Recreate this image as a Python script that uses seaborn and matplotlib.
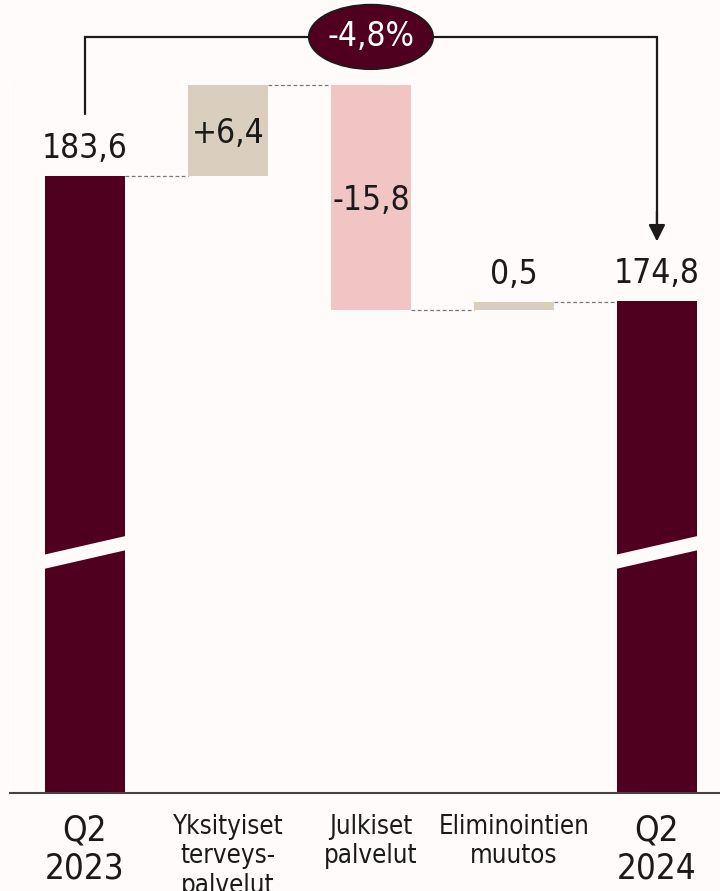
import numpy as np
import seaborn as sns
import matplotlib.pyplot as plt
from matplotlib.patches import Ellipse, Polygon

# data
categories = ['Q2\n2023', 'Yksityiset\nterveys-\npalvelut', 'Julkiset\npalvelut', 'Eliminointien\nmuutos', 'Q2\n2024']
start_value = 183.6
changes = [6.4, -15.8, 0.5]
end_value = 174.8
value_labels = ['183,6', '+6,4', '-15,8', '0,5', '174,8']
change_pct = '-4,8%'

bg = '#FFFBFA'
dark = '#50001E'
beige = '#DACFBF'
pink = '#F2C5C5'

sns.set_theme(style='white')
plt.rcParams['font.family'] = ['DejaVu Sans']
plt.rcParams['font.stretch'] = 'condensed'

# waterfall geometry
base = 140.15
bottoms = [base]
heights = [start_value - base]
level = start_value
for c in changes:
    bottoms.append(min(level, level + c))
    heights.append(abs(c))
    level += c
bottoms.append(base)
heights.append(end_value - base)
tops = [b + h for b, h in zip(bottoms, heights)]
colors = [dark, beige, pink, beige, dark]

fig = plt.figure(figsize=(7.2, 8.91), dpi=100, facecolor=bg)
ax = fig.add_axes([0.0139, 0.110, 0.9861, 0.890])
ax.set_facecolor(bg)

x = np.arange(len(categories))
w = 0.56
ax.bar(x, heights, bottom=bottoms, width=w, color=colors, edgecolor='none', zorder=2)
ax.set_xlim(-0.524, 4.441)
ax.set_ylim(base, 196.0)

# connectors
conn = [start_value, tops[1], bottoms[2], tops[3]]
for i, yv in enumerate(conn):
    ax.plot([x[i] + w / 2, x[i + 1] - w / 2], [yv, yv], ls=(0, (3, 2)), color='#777777', lw=0.9, zorder=1)

# value labels
txt = dict(fontsize=24, color='#1a1a1a', fontstretch='condensed')
ax.text(x[0], start_value + 0.8, value_labels[0], ha='center', va='bottom', **txt)
ax.text(x[1], bottoms[1] + heights[1] / 2 - 0.2, value_labels[1], ha='center', va='center', **txt)
ax.text(x[2], bottoms[2] + heights[2] / 2 - 0.2, value_labels[2], ha='center', va='center', **txt)
ax.text(x[3], tops[3] + 0.8, value_labels[3], ha='center', va='bottom', **txt)
ax.text(x[4], end_value + 0.8, value_labels[4], ha='center', va='bottom', **txt)

# bracket arrow
y_br = 193.4
ax.plot([x[0], x[0], x[4], x[4]], [start_value + 4.4, y_br, y_br, end_value + 5.0],
        color='#1a1a1a', lw=1.6, zorder=3, solid_joinstyle='miter')
ax.annotate('', xy=(x[4], end_value + 4.0), xytext=(x[4], end_value + 6.5),
            arrowprops=dict(arrowstyle='-|>', color='#1a1a1a', lw=1.6, mutation_scale=25))
ax.add_patch(Ellipse((x[2], y_br), 0.87, 4.55, facecolor=dark, edgecolor='#1a1a1a', lw=1.2, zorder=4))
ax.text(x[2], y_br, change_pct, ha='center', va='center', fontsize=24, color='white',
        fontstretch='condensed', zorder=5)

# axis break marks
brk = 156.1
for i in [0, 4]:
    xl, xr = x[i] - w / 2 - 0.15, x[i] + w / 2 + 0.07
    poly = Polygon([[xl, brk - 0.5], [xr, brk + 1.3], [xr, brk + 2.3], [xl, brk + 0.5]],
                   closed=True, facecolor=bg, edgecolor='none', zorder=3)
    ax.add_patch(poly)

# axes styling
for s in ['top', 'right']:
    ax.spines[s].set_visible(False)
ax.spines['left'].set_color('white')
ax.spines['left'].set_bounds(base, 190.0)
ax.spines['bottom'].set_color('#444444')
ax.spines['bottom'].set_linewidth(1.5)
ax.set_yticks([])
ax.set_xticks(x)
ax.set_xticklabels(categories)
for i, lab in enumerate(ax.get_xticklabels()):
    lab.set_fontsize(25 if i in (0, 4) else 18.5)
    lab.set_fontstretch('condensed')
    lab.set_color('#1a1a1a')
    lab.set_linespacing(1.15 if i in (0, 4) else 1.17)
ax.tick_params(axis='x', length=0, pad=15)
ax.set_xlabel('')
ax.set_ylabel('')

fig.savefig('out.png', dpi=100, facecolor=bg)
